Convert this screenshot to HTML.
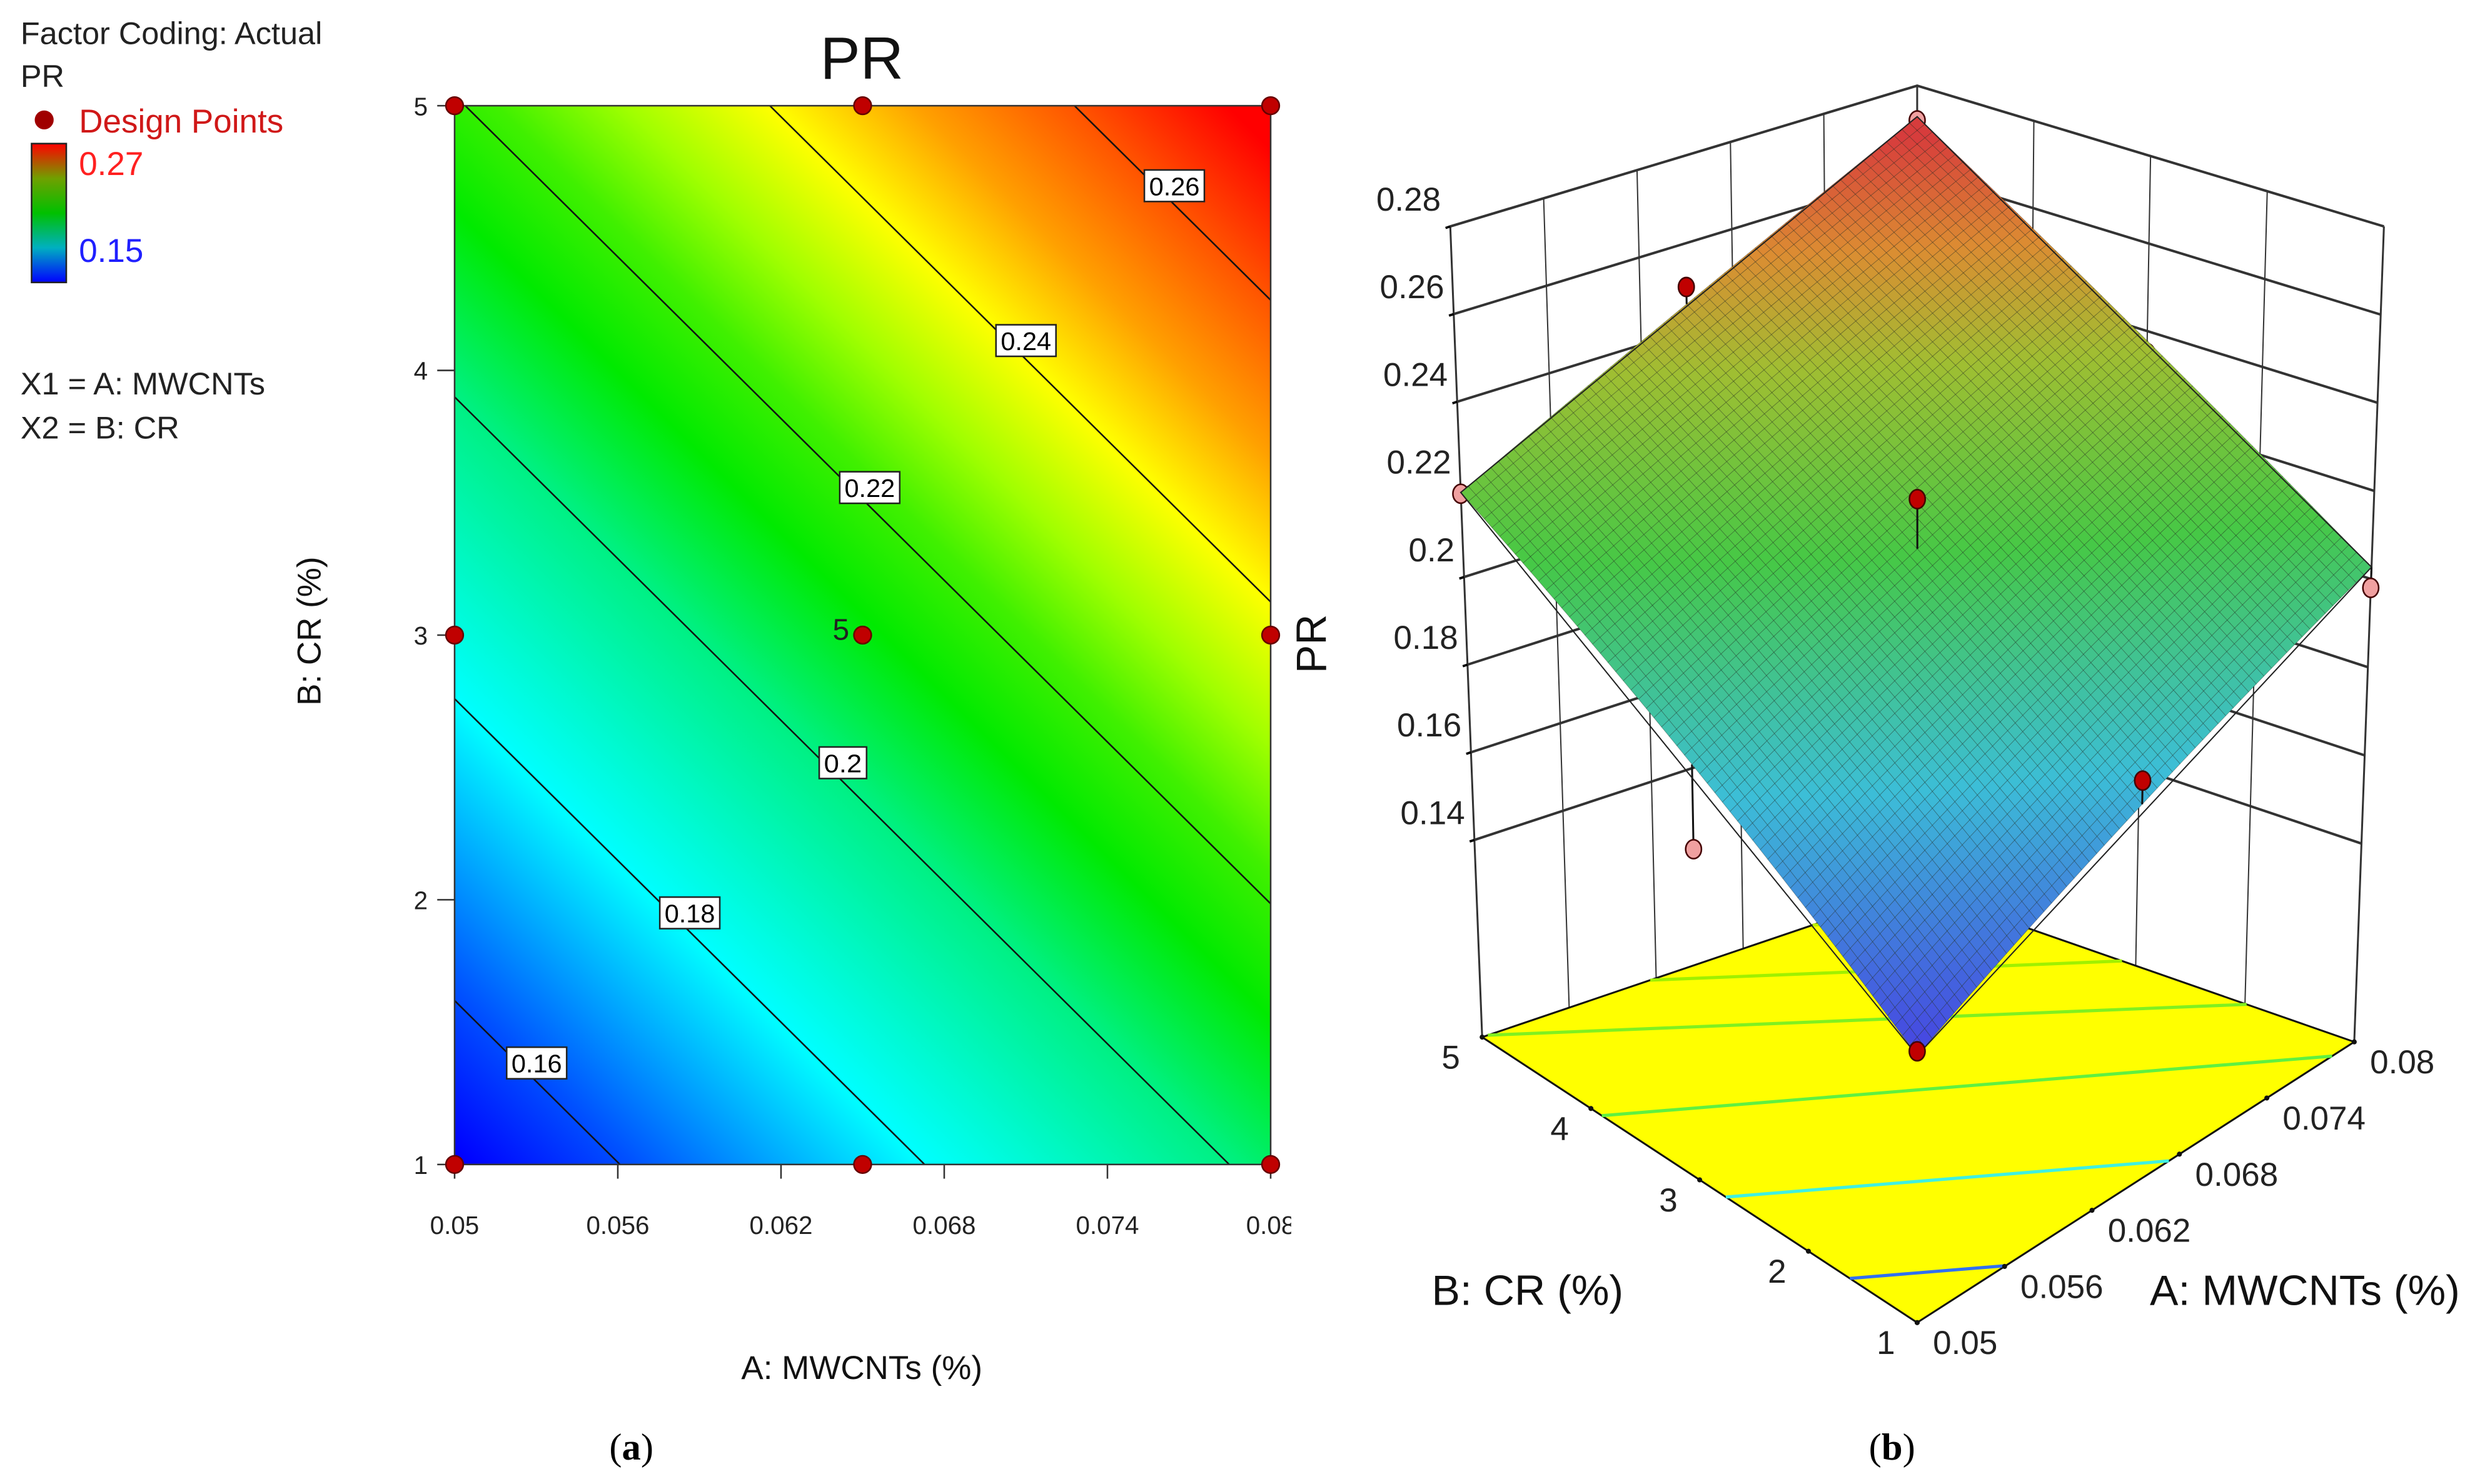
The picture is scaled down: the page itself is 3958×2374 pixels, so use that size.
<!DOCTYPE html>
<html><head><meta charset="utf-8"><style>
html,body{margin:0;padding:0;background:#fff;overflow:hidden;width:3958px;height:2374px;}
svg{display:block;position:absolute;left:0;top:0;font-family:"Liberation Sans",sans-serif;}
</style></head><body>
<svg id="fig" width="3958" height="2374" viewBox="0 0 1568 940.5" preserveAspectRatio="none" xmlns="http://www.w3.org/2000/svg">
<defs>
<clipPath id="plotclip"><rect x="288" y="67" width="517" height="671"/></clipPath>
<clipPath id="tickclip"><rect x="0" y="0" width="818" height="940"/></clipPath>
<linearGradient id="cbar" x1="0" y1="1" x2="0" y2="0">
<stop offset="0" stop-color="#0000ff"/><stop offset="0.25" stop-color="#00b0c0"/><stop offset="0.5" stop-color="#00c000"/><stop offset="0.75" stop-color="#70a000"/><stop offset="1" stop-color="#ff0000"/>
</linearGradient>
</defs>
<g id="left"></g>
<g id="right"></g>
<text x="386" y="925" font-family="Liberation Serif, serif" font-size="24">(<tspan font-weight="bold">a</tspan>)</text>
<text x="1184" y="925" font-family="Liberation Serif, serif" font-size="24">(<tspan font-weight="bold">b</tspan>)</text>
</svg>
<script>
// ---- data ----
const modelCoefNames = ["intercept","A","B"];
const modelCoef = [0.0423, 1.786, 0.01754];
const contourLevels = [0.16, 0.18, 0.20, 0.22, 0.24, 0.26];
const contourLabels = ["0.16","0.18","0.2","0.22","0.24","0.26"];
const xTicks = [0.05, 0.056, 0.062, 0.068, 0.074, 0.08];
const xTickLabels = ["0.05","0.056","0.062","0.068","0.074","0.08"];
const yTicks = [1, 2, 3, 4, 5];
const yTickLabels = ["1","2","3","4","5"];
const zTicks = [0.14, 0.16, 0.18, 0.20, 0.22, 0.24, 0.26, 0.28];
const zTickLabels = ["0.14","0.16","0.18","0.2","0.22","0.24","0.26","0.28"];
const designA = [0.05, 0.065, 0.08, 0.05, 0.065, 0.08, 0.05, 0.065, 0.08];
const designB = [1, 1, 1, 3, 3, 3, 5, 5, 5];
const designPR = [0.150, 0.181, 0.198, 0.166, 0.222, 0.235, 0.219, 0.250, 0.272];
const legendRange = [0.15, 0.27];

const NS="http://www.w3.org/2000/svg";
function mk(tag, attrs, parent){const e=document.createElementNS(NS,tag);for(const k in attrs)e.setAttribute(k,attrs[k]);parent.appendChild(e);return e;}
function pr(A,B){return modelCoef[0]+modelCoef[1]*A+modelCoef[2]*B;}
const Amin=0.05,Amax=0.08,Bmin=1,Bmax=5;

// ---------- LEFT CONTOUR PLOT ----------
const L=document.getElementById('left');
const X0=288,X1=805,Y0=738,Y1=67;
const sx=A=>X0+(A-Amin)/(Amax-Amin)*(X1-X0);
const sy=B=>Y0-(B-Bmin)/(Bmax-Bmin)*(Y0-Y1);
{
 const gx=modelCoef[1]*(Amax-Amin)/(X1-X0), gy=-modelCoef[2]*(Bmax-Bmin)/(Y0-Y1);
 const g2=gx*gx+gy*gy;
 const p0=pr(Amin,Bmin);
 const f0=(legendRange[0]-p0)/g2, f1=(legendRange[1]-p0)/g2;
 const defs=document.querySelector('defs');
 const lg=mk('linearGradient',{id:'fieldgrad',gradientUnits:'userSpaceOnUse',x1:X0+gx*f0,y1:Y0+gy*f0,x2:X0+gx*f1,y2:Y0+gy*f1},defs);
 [[0,'#0000ff'],[0.09,'#0050ff'],[0.25,'#00ffff'],[0.42,'#00f080'],[0.52,'#00ea00'],[0.6,'#40f000'],[0.67,'#a0ff00'],[0.75,'#ffff00'],[0.83,'#ffa000'],[0.92,'#ff5000'],[1,'#ff0000']].forEach(s=>mk('stop',{offset:s[0],'stop-color':s[1]},lg));
}
const field=mk('rect',{x:X0,y:Y1,width:X1-X0,height:Y0-Y1,fill:'url(#fieldgrad)'},L);


const cg=mk('g',{'clip-path':'url(#plotclip)'},L);
const labelX=[340,437,534,551,650,744];
contourLevels.forEach((lv,i)=>{
 const Bat=A=>(lv-modelCoef[0]-modelCoef[1]*A)/modelCoef[2];
 const ln=mk('line',{x1:sx(0.03),y1:sy(Bat(0.03)),x2:sx(0.1),y2:sy(Bat(0.1)),stroke:'#111','stroke-width':1},cg);
 
 
});
contourLevels.forEach((lv,i)=>{
 const A=Amin+(labelX[i]-X0)/(X1-X0)*(Amax-Amin);
 const y=sy((lv-modelCoef[0]-modelCoef[1]*A)/modelCoef[2])-12;
 const w=contourLabels[i].length*8+6;
 const g=mk('g',{},L);
 
 
 mk('rect',{x:labelX[i]-w/2,y:y-10,width:w,height:20,fill:'#fff',stroke:'#222','stroke-width':1},g);
 const t=mk('text',{x:labelX[i],y:y+6,'text-anchor':'middle','font-size':16,'textLength':w-6,'lengthAdjust':'spacingAndGlyphs'},g);
 t.textContent=contourLabels[i];
});
mk('rect',{x:X0,y:Y1,width:X1-X0,height:Y0-Y1,fill:'none',stroke:'#333','stroke-width':1},L);
const xt=mk('g',{'clip-path':'url(#tickclip)'},L);
xTicks.forEach((v,i)=>{
 mk('line',{x1:sx(v),y1:Y0,x2:sx(v),y2:Y0+9,stroke:'#333','stroke-width':1},L);
 const t=mk('text',{x:sx(v),y:Y0+44,'text-anchor':'middle','font-size':16,fill:'#222'},xt);
 
 
 t.textContent=xTickLabels[i];
});
yTicks.forEach((v,i)=>{
 mk('line',{x1:X0-11,y1:sy(v),x2:X0,y2:sy(v),stroke:'#333','stroke-width':1},L);
 const t=mk('text',{x:X0-17,y:sy(v)+6,'text-anchor':'end','font-size':16,fill:'#222'},L);
 
 
 t.textContent=yTickLabels[i];
});
designA.forEach((a,i)=>{
 const c=mk('circle',{cx:sx(a),cy:sy(designB[i]),r:5.5,fill:'#c00000',stroke:'#600','stroke-width':1},L);
 
 
});
{const t=mk('text',{x:sx(0.065)-19,y:sy(3)+3,'font-size':19,fill:'#222'},L);t.textContent='5';
 
 }
{const t=mk('text',{x:546,y:50,'text-anchor':'middle','font-size':38,fill:'#111'},L);t.textContent='PR';
 
 }
{const t=mk('text',{x:546,y:874,'text-anchor':'middle','font-size':21,fill:'#111'},L);t.textContent='A: MWCNTs (%)';
 
 }
{const t=mk('text',{x:0,y:0,'text-anchor':'middle','font-size':21,fill:'#111',transform:'translate(203,400) rotate(-90)'},L);t.textContent='B: CR (%)';
 
 }
function txt(s,x,y,fs,fill,name){const t=mk('text',{x:x,y:y,'font-size':fs,fill:fill},L);t.textContent=s;
 
 return t;}
txt('Factor Coding: Actual',13,28,20,'#222','legend-factor-coding');
txt('PR',13,55,20,'#222','legend-response');
{const c=mk('circle',{cx:28,cy:76,r:6,fill:'#a00000'},L);
 
 }
txt('Design Points',50,84,21,'#d01818','legend-design-points');
{const r=mk('rect',{x:20,y:91,width:22,height:88,fill:'url(#cbar)',stroke:'#222','stroke-width':1},L);
 
 }
txt('0.27',50,111,21,'#ff2020','color-bar-max');
txt('0.15',50,166,21,'#2020ff','color-bar-min');
txt('X1 = A: MWCNTs',13,250,20,'#222','legend-x1');
txt('X2 = B: CR',13,278,20,'#222','legend-x2');

// ---------- RIGHT 3D SURFACE ----------
const R=document.getElementById('right');
const Zf=0.095, Zt=0.28;
const FL={F:[1214.6,838.2],L:[939.0,657.3],R:[1491.5,660.3],K:[1214.6,563.8]};
const TP={F:[1214.6,259.9],L:[918.8,143.5],R:[1510.3,143.5],K:[1214.6,54.3]};
function bil(P,u,v){return [
 P.F[0]*(1-u)*(1-v)+P.R[0]*u*(1-v)+P.L[0]*(1-u)*v+P.K[0]*u*v,
 P.F[1]*(1-u)*(1-v)+P.R[1]*u*(1-v)+P.L[1]*(1-u)*v+P.K[1]*u*v];}
function P3(A,B,z){const u=(A-Amin)/(Amax-Amin),v=(B-Bmin)/(Bmax-Bmin),w=(z-Zf)/(Zt-Zf);
 const b=bil(FL,u,v),t=bil(TP,u,v);return [b[0]+(t[0]-b[0])*w,b[1]+(t[1]-b[1])*w];}
function pts(arr){return arr.map(p=>p[0].toFixed(2)+','+p[1].toFixed(2)).join(' ');}
const wall=mk('g',{},R);


xTicks.forEach(a=>{const p=P3(a,Bmax,Zf),q=P3(a,Bmax,Zt);mk('line',{x1:p[0],y1:p[1],x2:q[0],y2:q[1],stroke:'#333','stroke-width':a==Amin||a==Amax?1.2:0.8},wall);});
yTicks.forEach(b=>{const p=P3(Amax,b,Zf),q=P3(Amax,b,Zt);mk('line',{x1:p[0],y1:p[1],x2:q[0],y2:q[1],stroke:'#333','stroke-width':b==Bmin?1.2:0.8},wall);});
zTicks.forEach((z,i)=>{
 const a=P3(Amin,Bmax,z),k=P3(Amax,Bmax,z),r=P3(Amax,Bmin,z);
 mk('polyline',{points:pts([a,k,r]),fill:'none',stroke:'#333','stroke-width':1.6},wall);
 mk('line',{x1:a[0]-3,y1:a[1]+1,x2:a[0],y2:a[1],stroke:'#000','stroke-width':1.5},wall);
 const t=mk('text',{x:a[0]-6,y:a[1]-10,'text-anchor':'end','font-size':21,fill:'#222'},R);
 
 
 t.textContent=zTickLabels[i];
});
const fl=mk('polygon',{points:pts([P3(Amin,Bmin,Zf),P3(Amax,Bmin,Zf),P3(Amax,Bmax,Zf),P3(Amin,Bmax,Zf)]),fill:'#ffff00',stroke:'#111','stroke-width':1.2},R);


const floorCol=['#3070f0','#40f0e0','#60f040','#80f020','#a0f000','#c0f000'];
contourLevels.forEach((lv,i)=>{
 const c=[];
 [Amin,Amax].forEach(a=>{const b=(lv-modelCoef[0]-modelCoef[1]*a)/modelCoef[2];if(b>=Bmin&&b<=Bmax)c.push([a,b]);});
 [Bmin,Bmax].forEach(b=>{const a=(lv-modelCoef[0]-modelCoef[2]*b)/modelCoef[1];if(a>Amin&&a<Amax)c.push([a,b]);});
 if(c.length<2)return;
 const p=P3(c[0][0],c[0][1],Zf),q=P3(c[1][0],c[1][1],Zf);
 const ln=mk('line',{x1:p[0],y1:p[1],x2:q[0],y2:q[1],stroke:floorCol[i],'stroke-width':2},R);
 
 
});
yTicks.forEach((b,i)=>{const p=P3(Amin,b,Zf);
 mk('circle',{cx:p[0],cy:p[1],r:1.6,fill:'#111'},R);
 const t=mk('text',{x:p[0]-14,y:p[1]+20,'text-anchor':'end','font-size':21,fill:'#222'},R);
 
 
 t.textContent=yTickLabels[i];});
xTicks.forEach((a,i)=>{const p=P3(a,Bmin,Zf);
 mk('circle',{cx:p[0],cy:p[1],r:1.6,fill:'#111'},R);
 const t=mk('text',{x:p[0]+10,y:p[1]+20,'font-size':21,fill:'#222'},R);
 
 
 t.textContent=xTickLabels[i];});
function surfColor(v){const t=Math.max(0,Math.min(1,(v-legendRange[0])/(legendRange[1]-legendRange[0])));
 const st=[[0,[70,70,225]],[0.25,[60,190,215]],[0.5,[70,200,70]],[0.72,[160,190,50]],[0.86,[220,140,50]],[1,[215,60,60]]];
 for(let i=1;i<st.length;i++){if(t<=st[i][0]){const f=(t-st[i-1][0])/(st[i][0]-st[i-1][0]);const a=st[i-1][1],b=st[i][1];
  return 'rgb('+a.map((x,j)=>Math.round(x+(b[j]-x)*f)).join(',')+')';}}return 'rgb(215,60,60)';}
function drawPoint(i,above){
 const s=P3(designA[i],designB[i],pr(designA[i],designB[i])),p=P3(designA[i],designB[i],designPR[i]);
 mk('line',{x1:s[0],y1:s[1],x2:p[0],y2:p[1],stroke:'#111','stroke-width':1.2},R);
 const c=mk('ellipse',{cx:p[0],cy:p[1],rx:5,ry:6,fill:above?'#c00000':'#f0a0a0',stroke:'#400','stroke-width':1},R);
 
 
}
designA.forEach((a,i)=>{if(designPR[i]<pr(a,designB[i]))drawPoint(i,false);});
const sg=mk('g',{},R);


const N=60;
for(let i=0;i<N;i++)for(let j=0;j<N;j++){
 const a0=Amin+(Amax-Amin)*i/N,a1=Amin+(Amax-Amin)*(i+1)/N,b0=Bmin+(Bmax-Bmin)*j/N,b1=Bmin+(Bmax-Bmin)*(j+1)/N;
 const q=[P3(a0,b0,pr(a0,b0)),P3(a1,b0,pr(a1,b0)),P3(a1,b1,pr(a1,b1)),P3(a0,b1,pr(a0,b1))];
 const col=surfColor(pr((a0+a1)/2,(b0+b1)/2));
 mk('polygon',{points:pts(q),fill:col,stroke:'rgba(20,30,20,0.35)','stroke-width':0.35},sg);
}
mk('polygon',{points:pts([P3(Amin,Bmin,pr(Amin,Bmin)),P3(Amax,Bmin,pr(Amax,Bmin)),P3(Amax,Bmax,pr(Amax,Bmax)),P3(Amin,Bmax,pr(Amin,Bmax))]),fill:'none',stroke:'#222','stroke-width':0.8},sg);
designA.forEach((a,i)=>{if(designPR[i]>=pr(a,designB[i]))drawPoint(i,true);});
{const t=mk('text',{x:907,y:827,'font-size':27,fill:'#111'},R);t.textContent='B: CR (%)';
 
 }
{const t=mk('text',{x:1362,y:827,'font-size':27,fill:'#111'},R);t.textContent='A: MWCNTs (%)';
 
 }
{const t=mk('text',{x:0,y:0,'text-anchor':'middle','font-size':27,fill:'#111',transform:'translate(840,408) rotate(-90)'},R);t.textContent='PR';
 
 }
</script>
</body></html>
